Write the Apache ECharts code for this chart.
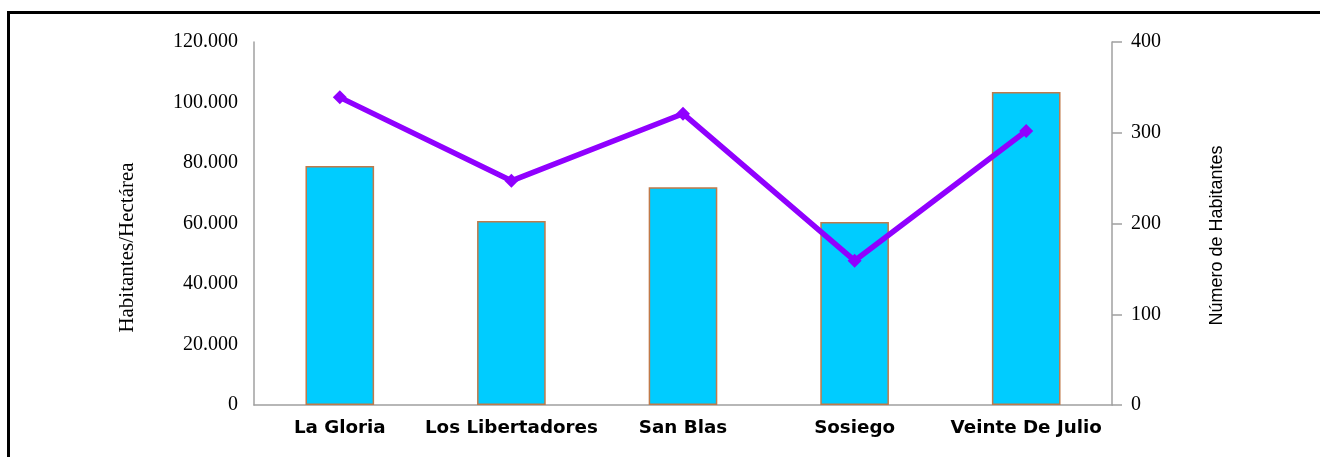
<!DOCTYPE html>
<html>
<head>
<meta charset="utf-8">
<script src="https://cdn.jsdelivr.net/npm/echarts@6/dist/echarts.min.js"></script>
<style>
    html, body { margin: 0; padding: 0; background: #fff; }
    #chart { width: 1320px; height: 457px; }
</style>
</head>
<body>
<div id="chart"></div>
<script>
    // barrios
    let categories = ['La Gloria', 'Los Libertadores', 'San Blas', 'Sosiego', 'Veinte De Julio'];
    // habitantes / hectarea (barras, eje izquierdo)
    let densidad = [79000, 60800, 72000, 60500, 103500];
    // numero de habitantes (linea, eje derecho)
    let habitantes = [339, 247, 321, 159, 302];

    function miles(v) {
        return String(v).replace(/\B(?=(\d{3})+(?!\d))/g, '.');
    }

    let chart = echarts.init(document.getElementById('chart'));

    let option = {
        animation: false,
        grid: {
            left: 254,
            right: 208,
            top: 42,
            bottom: 52
        },
        graphic: [{
            type: 'polyline',
            shape: { points: [[8.5, 457], [8.5, 12.5], [1320, 12.5]] },
            style: { stroke: '#000', lineWidth: 3, fill: null }
        }],
        xAxis: {
            type: 'category',
            data: categories,
            axisLine: { lineStyle: { color: '#a0a0a0', width: 1.5 } },
            axisTick: { show: false },
            axisLabel: {
                interval: 0,
                margin: 14,
                fontFamily: 'DejaVu Sans',
                fontWeight: 'bold',
                fontSize: 18.3,
                color: '#000'
            }
        },
        yAxis: [
            {
                type: 'value',
                min: 0,
                max: 120000,
                interval: 20000,
                name: 'Habitantes/Hectárea',
                nameLocation: 'middle',
                nameRotate: 90,
                nameGap: 116,
                nameTextStyle: {
                    fontFamily: 'Liberation Serif',
                    fontSize: 21,
                    color: '#000',
                    padding: [0, 48, 0, 0]
                },
                axisLine: { show: true, lineStyle: { color: '#a0a0a0', width: 1.5 } },
                axisTick: { show: false },
                splitLine: { show: false },
                axisLabel: {
                    margin: 16,
                    fontFamily: 'Liberation Serif',
                    fontSize: 20,
                    color: '#000',
                    formatter: miles
                }
            },
            {
                type: 'value',
                min: 0,
                max: 400,
                interval: 100,
                position: 'right',
                name: 'Número de Habitantes',
                nameLocation: 'middle',
                nameRotate: 90,
                nameGap: 96,
                nameTextStyle: {
                    fontFamily: 'Liberation Sans',
                    fontSize: 18,
                    color: '#000',
                    padding: [0, 24, 0, 0]
                },
                axisLine: { show: true, lineStyle: { color: '#a0a0a0', width: 1.5 } },
                axisTick: { show: true, length: 10, lineStyle: { color: '#a0a0a0', width: 1.5 } },
                splitLine: { show: false },
                axisLabel: {
                    margin: 19,
                    fontFamily: 'Liberation Serif',
                    fontSize: 20,
                    color: '#000'
                }
            }
        ],
        series: [
            {
                name: 'Habitantes/Hectárea',
                type: 'bar',
                yAxisIndex: 0,
                barWidth: '40%',
                data: densidad,
                itemStyle: {
                    color: '#00ccff',
                    borderColor: '#c07a4a',
                    borderWidth: 1.5
                }
            },
            {
                name: 'Número de Habitantes',
                type: 'line',
                yAxisIndex: 1,
                data: habitantes,
                symbol: 'diamond',
                symbolSize: 14,
                lineStyle: { color: '#9000ff', width: 5.5 },
                itemStyle: { color: '#9000ff' }
            }
        ]
    };

    chart.setOption(option);
</script>
</body>
</html>
